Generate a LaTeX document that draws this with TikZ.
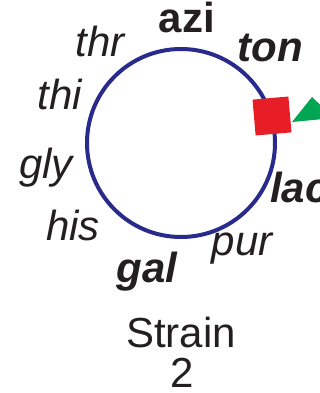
\documentclass[tikz,border=0pt]{standalone}
\usepackage{fontspec}
\setmainfont{Liberation Sans}
\usetikzlibrary{positioning}

\definecolor{chromblue}{RGB}{40,42,140}
\definecolor{markred}{RGB}{232,30,38}
\definecolor{markgreen}{RGB}{0,166,81}
\definecolor{txt}{RGB}{35,31,32}

\begin{document}
\begin{tikzpicture}[
    x=1pt, y=-1pt,
    chrom/.style={draw=chromblue, line width=4pt},
    gene/.style={anchor=base, inner sep=0pt, text=txt, font=\fontsize{42}{42}\selectfont\itshape},
    keygene/.style={gene, font=\fontsize{42}{42}\selectfont\bfseries\itshape},
    label/.style={anchor=base, inner sep=0pt, text=txt, align=center, font=\fontsize{42}{41}\selectfont}
]
\useasboundingbox (0,0) rectangle (320,393);
% chromosome
\draw[chrom] (181,143) circle (94);
% markers on the right
\node[rectangle, fill=markred, minimum size=36pt, inner sep=0pt, rotate=5] (sq) at (272,116) {};
\fill[markgreen] (292,122) -- (312,97) -- (334,118) -- cycle;
% loci round the circle
\node[anchor=base, inner sep=0pt, text=txt, font=\fontsize{42}{42}\selectfont\bfseries] (azi) at (187,33) {azi};
\node[gene] (thr) at (100,57) {thr};
\node[keygene] (ton) at (270,62) {ton};
\node[gene] (thi) at (60,110) {thi};
\node[gene] (gly) at (46,178) {gly};
\node[keygene, anchor=base west] (lac) at (270,202) {lac};
\node[gene] (his) at (73,240) {his};
\node[keygene] (gal) at (147,282) {gal};
\node[gene] (pur) at (242,255) {pur};
\node[label] (strain) at (181,347) {Strain};
\node[label] (num) at (182,387) {2};
\end{tikzpicture}
\end{document}
